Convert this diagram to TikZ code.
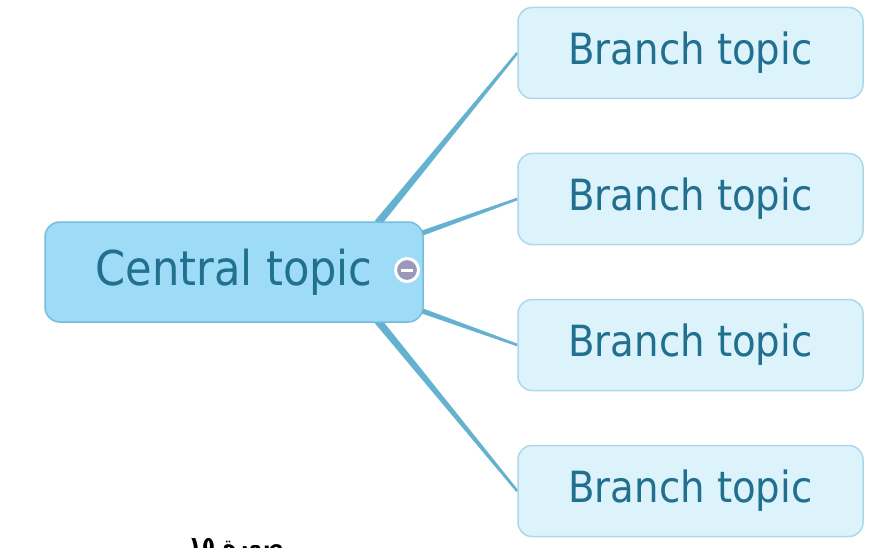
\documentclass[tikz,border=0pt]{standalone}
\usepackage{fontspec}
\setmainfont{DejaVu Sans Condensed}
\newfontfamily\arabicfont[Script=Arabic]{DejaVu Sans}
\TeXXeTstate=1
\usetikzlibrary{calc,backgrounds}
\definecolor{cfill}{HTML}{9DDBF7}
\definecolor{cline}{HTML}{74BEDC}
\definecolor{bfill}{HTML}{DDF3FC}
\definecolor{bline}{HTML}{ADD8E9}
\definecolor{ttext}{HTML}{21708F}
\definecolor{conn}{HTML}{64B2CF}
\definecolor{iconfill}{HTML}{9B99B9}
\newcommand\taperline[4]{%
  \fill[conn] ($(#1)!#3!90:(#2)$) -- ($(#2)!#4!-90:(#1)$) -- ($(#2)!#4!90:(#1)$) -- ($(#1)!#3!-90:(#2)$) -- cycle;}
\tikzset{
  central/.style={draw=cline, line width=1.5pt, fill=cfill, rounded corners=15pt,
    minimum width=378pt, minimum height=100pt, inner sep=0pt, text=ttext,
    font=\fontsize{48}{54}\selectfont},
  branch/.style={draw=bline, line width=1.5pt, fill=bfill, rounded corners=14pt,
    minimum width=345pt, minimum height=91pt, inner sep=0pt, text=ttext,
    font=\fontsize{43}{49}\selectfont},
  icon/.style={circle, draw=white, line width=3pt, fill=iconfill, minimum size=23pt, inner sep=0pt},
}
\begin{document}
\begin{tikzpicture}[x=1pt, y=-1pt]
\useasboundingbox (0,0) rectangle (869,548);
\clip (0,0) rectangle (869,548);
\node[central] (c) at (234,272) {Central topic};
\node[icon] (ic) at (407,270) {};
\draw[white, line width=3pt] ($(ic.center)+(-6,0)$) -- ($(ic.center)+(6,0)$);
\node[branch] (b1) at (690.5,53) {Branch topic};
\node[branch] (b2) at (690.5,199) {Branch topic};
\node[branch] (b3) at (690.5,345) {Branch topic};
\node[branch] (b4) at (690.5,491) {Branch topic};
\begin{scope}[on background layer]
\fill[white] (0,0) rectangle (869,548);
\coordinate (s1) at ($(c.north east)+(-46,2)$);
\coordinate (s2) at ($(c.north east)+(-2,12)$);
\coordinate (s3) at ($(c.south east)+(-2,-12)$);
\coordinate (s4) at ($(c.south east)+(-46,-2)$);
\taperline{s1}{b1.west}{3.8pt}{1.3pt}
\taperline{s2}{b2.west}{2.6pt}{1.3pt}
\taperline{s3}{b3.west}{2.6pt}{1.3pt}
\taperline{s4}{b4.west}{3.8pt}{1.3pt}
\end{scope}
\node[anchor=base, font=\arabicfont\bfseries\fontsize{22}{26}\selectfont] (cap) at (236,552) {\beginR صورة \beginL١٥\endL\endR};
\end{tikzpicture}
\end{document}
